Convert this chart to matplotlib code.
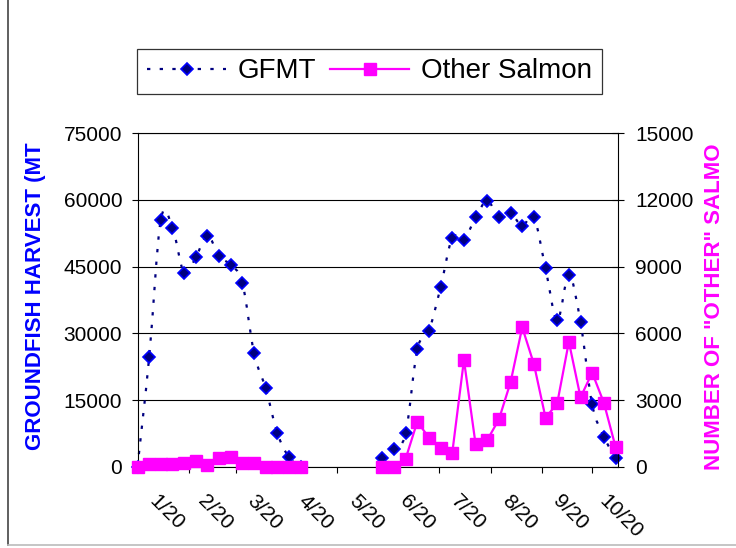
import numpy as np
import pandas as pd
import matplotlib
matplotlib.use("Agg")
import matplotlib.pyplot as plt
from matplotlib.path import Path
from matplotlib.patches import PathPatch
from matplotlib.lines import Line2D
from matplotlib.transforms import ScaledTranslation
import matplotlib.dates as mdates

plt.rcParams['font.family'] = ['Liberation Sans', 'DejaVu Sans']

nan = np.nan
# weekly reporting dates (A season from 1/20, B season from mid June)
weeks = pd.date_range("2001-01-20", periods=42, freq="7D")

gfmt = [0, 24600, 55600, 53800, 43500, 47100, 52000, 47300, 45400, 41300,
        25500, 17600, 7500, 2100, 0,
        nan, nan, nan, nan, nan, nan,
        1900, 4050, 7500, 26400, 30600, 40400, 51500, 51000, 56100, 59800,
        56100, 57000, 54200, 56100, 44600, 32900, 43100, 32500, 14000, 6750, 2000]

other_salmon = [0, 100, 100, 100, 180, 260, 90, 380, 450, 170,
                170, 0, 0, 0, 0,
                nan, nan, nan, nan, nan, nan,
                0, 0, 360, 2025, 1305, 830, 630, 4800, 1010, 1200,
                2130, 3800, 6270, 4620, 2200, 2850, 5620, 3120, 4230, 2880, 900]

tick_months = [2, 3, 4, 5, 6, 7, 8, 9, 10]
label_months = [1, 2, 3, 4, 5, 6, 7, 8, 9, 10]
month_labels = ["1/20", "2/20", "3/20", "4/20", "5/20", "6/20", "7/20", "8/20", "9/20", "10/20"]

NAVY = '#000080'
BLUE = '#0000FF'
MAGENTA = '#FF00FF'


def smooth_path(x, y):
    # excel style smoothed line, bezier through every point
    n = len(x)
    verts = [(x[0], y[0])]
    codes = [Path.MOVETO]
    for i in range(n - 1):
        xa, ya = x[max(i - 1, 0)], y[max(i - 1, 0)]
        xb, yb = x[min(i + 2, n - 1)], y[min(i + 2, n - 1)]
        c1 = (x[i] + (x[i + 1] - xa) / 6, y[i] + (y[i + 1] - ya) / 6)
        c2 = (x[i + 1] - (xb - x[i]) / 6, y[i + 1] - (yb - y[i]) / 6)
        verts += [c1, c2, (x[i + 1], y[i + 1])]
        codes += [Path.CURVE4] * 3
    return Path(verts, codes)


fig = plt.figure(figsize=(7.36, 5.48), dpi=100)
ax = fig.add_axes([137.5 / 736, 1 - 466.7 / 548, 480.5 / 736, 333.4 / 548])
ax2 = ax.twinx()

xnum = mdates.date2num(weeks)
g = np.array(gfmt, dtype=float)
dots = (0, (1.5, 4.2))

# smoothed dotted line, one piece per season
good = ~np.isnan(g)
start = None
for i in range(len(g) + 1):
    if i < len(g) and good[i]:
        if start is None:
            start = i
    elif start is not None:
        p = smooth_path(xnum[start:i], g[start:i])
        ax.add_patch(PathPatch(p, fill=False, edgecolor=NAVY, lw=1.6,
                               linestyle=dots, clip_on=False, zorder=2))
        start = None

ax.plot(weeks, gfmt, linestyle='none', marker='D', ms=6.6, mfc=NAVY,
        mec=BLUE, mew=1.2, clip_on=False, zorder=3)

ax2.plot(weeks, other_salmon, color=MAGENTA, lw=1.6, marker='s', ms=8.2,
         mfc=MAGENTA, mec=MAGENTA, clip_on=False, zorder=3)

ax.set_xlim(weeks[0], weeks[-1])
ax.set_ylim(0, 75000)
ax2.set_ylim(0, 15000)
ax.set_yticks(np.arange(0, 75001, 15000))
ax2.set_yticks(np.arange(0, 15001, 3000))
ax.yaxis.grid(True, color='black', lw=0.8)
ax.set_axisbelow(True)

for s in ['left', 'bottom', 'top', 'right']:
    ax.spines[s].set_linewidth(0.8)
    ax2.spines[s].set_linewidth(0.8)
ax.spines['right'].set_visible(False)
ax2.spines['left'].set_visible(False)
ax2.spines['top'].set_visible(False)
ax2.spines['bottom'].set_visible(False)

ax.tick_params(axis='y', direction='out', length=4, width=0.8, pad=7, labelsize=15)
ax2.tick_params(axis='y', direction='inout', length=8.5, width=0.8, pad=8, labelsize=15)

ticks = [pd.Timestamp(2001, m, 20) for m in tick_months]
mids = [pd.Timestamp(2001, m, 20) + (pd.Timestamp(2001, m + 1, 20) - pd.Timestamp(2001, m, 20)) / 2
        for m in label_months]
ax.set_xticks(ticks)
ax.set_xticklabels([])
ax.set_xticks(mids, minor=True)
ax.set_xticklabels(month_labels, minor=True)
ax.tick_params(axis='x', which='major', direction='out', length=4.3, width=0.8)
ax.tick_params(axis='x', which='minor', length=0, pad=17.5, labelsize=15, labelrotation=-45)
shift = ScaledTranslation(3 / 100, 0, fig.dpi_scale_trans)
for lab in ax.xaxis.get_minorticklabels():
    lab.set_transform(lab.get_transform() + shift)

fig.text(36 / 736, 1 - 296 / 548, "GROUNDFISH HARVEST (MT", rotation=90,
         color=BLUE, fontsize=16, fontweight='bold', ha='center', va='center')
fig.text(715 / 736, 1 - 306.7 / 548, 'NUMBER OF "OTHER" SALMO', rotation=90,
         color=MAGENTA, fontsize=16, fontweight='bold', ha='center', va='center')

handles = [Line2D([], [], color=NAVY, lw=1.6, linestyle=dots, marker='D', ms=6.6,
                  mfc=NAVY, mec=BLUE, mew=1.2),
           Line2D([], [], color=MAGENTA, lw=1.6, marker='s', ms=8.2,
                  mfc=MAGENTA, mec=MAGENTA)]
leg = fig.legend(handles, ["GFMT", "Other Salmon"], loc='center',
                 bbox_to_anchor=(369.5 / 736, 1 - 71.5 / 548), ncol=2,
                 fontsize=20, frameon=True, fancybox=False, numpoints=1,
                 handlelength=2.85, handletextpad=0.42, columnspacing=0.5,
                 borderpad=0.35)
leg.get_frame().set_edgecolor('black')
leg.get_frame().set_linewidth(0.9)

fig.add_artist(Line2D([8 / 736, 8 / 736], [3 / 548, 1], color='#444444', lw=1.2,
                      transform=fig.transFigure))
fig.add_artist(Line2D([8 / 736, 1], [3 / 548, 3 / 548], color='#bbbbbb', lw=1.2,
                      transform=fig.transFigure))

fig.savefig("out.png", dpi=100, facecolor='white')
